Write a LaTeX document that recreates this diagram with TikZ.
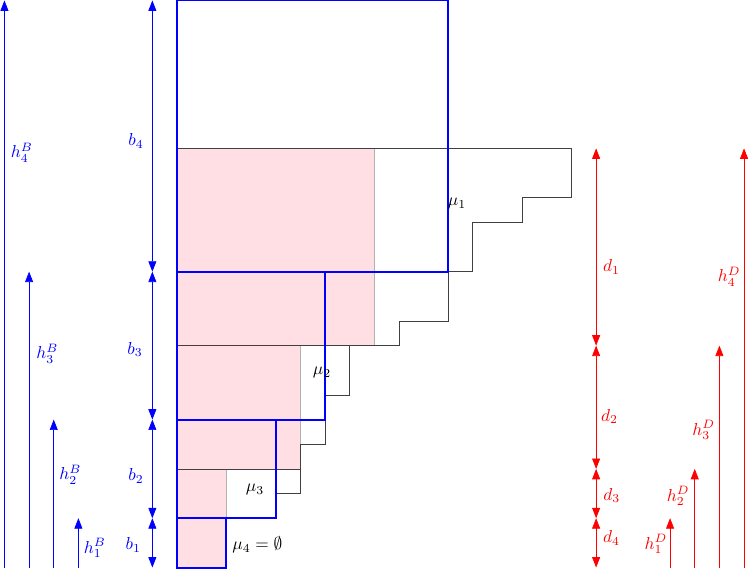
\documentclass[tikz,border=0pt]{standalone}
\usetikzlibrary{arrows.meta}
\definecolor{pinkfill}{RGB}{255,222,228}
\tikzset{
  harrB/.style={blue, line width=0.4pt, -{Triangle[length=6pt,width=4.6pt]}},
  darrB/.style={blue, line width=0.4pt, {Triangle[length=6pt,width=4.6pt]}-{Triangle[length=6pt,width=4.6pt]}},
  harrD/.style={red, line width=0.4pt, -{Triangle[length=6pt,width=4.6pt]}},
  darrD/.style={red, line width=0.4pt, {Triangle[length=6pt,width=4.6pt]}-{Triangle[length=6pt,width=4.6pt]}},
  bbox/.style={draw=blue, line width=1.15pt},
  outline/.style={draw=black!75, line width=0.45pt},
  pinksq/.style={fill=pinkfill, draw=black!30, line width=0.45pt},
  blab/.style={text=blue, inner sep=0pt},
  rlab/.style={text=red, inner sep=0pt},
  mlab/.style={text=black, inner sep=0pt}
}
\begin{document}
\begin{tikzpicture}[x=0.5cm,y=0.5cm]
\useasboundingbox (-7.18,-0.04) rectangle (23.16,23.02);

% pink squares d_i x d_i
\path[pinksq] (0,9) rectangle (8,17);
\path[pinksq] (0,4) rectangle (5,9);
\path[pinksq] (0,2) rectangle (2,4);
\path[pinksq] (0,0) rectangle (2,2);

% band outlines
\draw[outline] (0,9) -- (0,17) -- (16,17) -- (16,15) -- (14,15) -- (14,14) -- (12,14) -- (12,12) -- (11,12) -- (11,10) -- (9,10) -- (9,9) -- cycle;
\draw[outline] (0,4) -- (0,9) -- (7,9) -- (7,7) -- (6,7) -- (6,5) -- (5,5) -- (5,4) -- cycle;
\draw[outline] (0,2) -- (0,4) -- (5,4) -- (5,3) -- (4,3) -- (4,2) -- cycle;

% blue boxes b_i x b_i
\draw[bbox] (0,0) rectangle (2,2);
\draw[bbox] (0,2) rectangle (4,6);
\draw[bbox] (0,6) rectangle (6,12);
\draw[bbox] (0,12) rectangle (11,23);

% mu labels
\node[mlab] (mu1) at (11.36,14.77) {$\mu_1$};
\node[mlab] (mu2) at (5.88,7.91) {$\mu_2$};
\node[mlab] (mu3) at (3.16,3.16) {$\mu_3$};
\node[mlab,anchor=west] (mu4) at (2.23,0.93) {$\mu_4=\emptyset$};

% blue coordinates
\coordinate (hB4a) at (-7,0); \coordinate (hB4b) at (-7,23);
\coordinate (hB3a) at (-6,0); \coordinate (hB3b) at (-6,12);
\coordinate (hB2a) at (-5,0); \coordinate (hB2b) at (-5,6);
\coordinate (hB1a) at (-4,0); \coordinate (hB1b) at (-4,2);
\coordinate (b0) at (-1,0); \coordinate (b1) at (-1,2);
\coordinate (b2) at (-1,6); \coordinate (b3) at (-1,12);
\coordinate (b4) at (-1,23);

\draw[harrB] (hB4a) -- (hB4b);
\draw[harrB] (hB3a) -- (hB3b);
\draw[harrB] (hB2a) -- (hB2b);
\draw[harrB] (hB1a) -- (hB1b);
\draw[darrB] (b0) -- (b1);
\draw[darrB] (b1) -- (b2);
\draw[darrB] (b2) -- (b3);
\draw[darrB] (b3) -- (b4);

\node[blab,anchor=west] (lhB4) at (-6.75,16.83) {$h^B_4$};
\node[blab,anchor=west] (lhB3) at (-5.72,8.67) {$h^B_3$};
\node[blab,anchor=west] (lhB2) at (-4.79,3.77) {$h^B_2$};
\node[blab,anchor=west] (lhB1) at (-3.79,0.79) {$h^B_1$};
\node[blab,anchor=east] (lb4) at (-1.34,17.31) {$b_4$};
\node[blab,anchor=east] (lb3) at (-1.38,8.84) {$b_3$};
\node[blab,anchor=east] (lb2) at (-1.34,3.71) {$b_2$};
\node[blab,anchor=east] (lb1) at (-1.45,0.92) {$b_1$};

% red coordinates
\coordinate (d0) at (17,0); \coordinate (d4) at (17,2);
\coordinate (d3) at (17,4); \coordinate (d2) at (17,9);
\coordinate (d1) at (17,17);
\coordinate (hD1a) at (20,0); \coordinate (hD1b) at (20,2);
\coordinate (hD2a) at (21,0); \coordinate (hD2b) at (21,4);
\coordinate (hD3a) at (22,0); \coordinate (hD3b) at (22,9);
\coordinate (hD4a) at (23,0); \coordinate (hD4b) at (23,17);

\draw[darrD] (d0) -- (d4);
\draw[darrD] (d4) -- (d3);
\draw[darrD] (d3) -- (d2);
\draw[darrD] (d2) -- (d1);
\draw[harrD] (hD1a) -- (hD1b);
\draw[harrD] (hD2a) -- (hD2b);
\draw[harrD] (hD3a) -- (hD3b);
\draw[harrD] (hD4a) -- (hD4b);

\node[rlab,anchor=west] (ld1) at (17.27,12.2) {$d_1$};
\node[rlab,anchor=west] (ld2) at (17.19,6.13) {$d_2$};
\node[rlab,anchor=west] (ld3) at (17.28,2.93) {$d_3$};
\node[rlab,anchor=west] (ld4) at (17.27,1.19) {$d_4$};
\node[rlab,anchor=east] (lhD4) at (22.87,11.8) {$h^D_4$};
\node[rlab,anchor=east] (lhD3) at (21.83,5.58) {$h^D_3$};
\node[rlab,anchor=east] (lhD2) at (20.8,2.9) {$h^D_2$};
\node[rlab,anchor=east] (lhD1) at (19.9,0.95) {$h^D_1$};
\end{tikzpicture}
\end{document}
